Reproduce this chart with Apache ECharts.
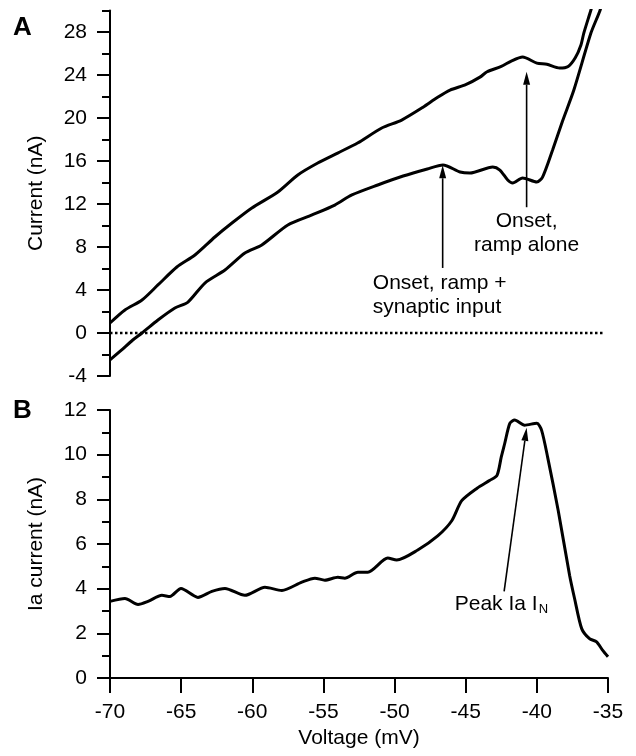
<!DOCTYPE html>
<html>
<head>
<meta charset="utf-8">
<script src="https://cdn.jsdelivr.net/npm/echarts@6/dist/echarts.min.js"></script>
<style>
  html, body { margin: 0; padding: 0; background: #fff; }
  #main { width: 636px; height: 756px; }
</style>
</head>
<body>
<div id="main"></div>
<script>
const FONT = '"Liberation Sans", Arial, sans-serif';

// tick positions
const voltTicks = [-70, -65, -60, -55, -50, -45, -40, -35];
const aMajorTicks = [-4, 0, 4, 8, 12, 16, 20, 24, 28];
const aMinorTicks = [-2, 2, 6, 10, 14, 18, 22, 26, 30];
const bMajorTicks = [0, 2, 4, 6, 8, 10, 12];
const bMinorTicks = [1, 3, 5, 7, 9, 11];

// panel A: current (nA) vs voltage (mV)
const rampAlone = [
  [-70, 0.93], [-68.95, 2.14], [-67.75, 3.07], [-66.63, 4.47], [-65.3, 6.14],
  [-64.03, 7.26], [-62.63, 8.93], [-61.43, 10.23], [-60.03, 11.63], [-58.2, 13.12],
  [-56.8, 14.7], [-55.4, 15.81], [-54, 16.74], [-52.6, 17.67], [-50.9, 19.07],
  [-49.5, 19.81], [-48, 21.0], [-47, 21.9], [-46.1, 22.6], [-45, 23.1],
  [-44, 23.8], [-43.5, 24.3], [-42.5, 24.8], [-41.8, 25.3], [-41, 25.67],
  [-40, 25.1], [-39.3, 25.0], [-38.4, 24.65], [-37.8, 24.8], [-37.3, 25.6],
  [-36.9, 26.8], [-36.7, 27.9], [-36.2, 30.05], [-36.0, 31]
];
const rampSynaptic = [
  [-70, -2.5], [-69.2, -1.6], [-68.4, -0.65], [-67.75, 0], [-66.63, 1.21],
  [-65.44, 2.33], [-64.52, 2.88], [-63.33, 4.65], [-61.92, 5.86], [-60.52, 7.44],
  [-59.33, 8.19], [-57.5, 10.05], [-55.8, 10.98], [-54.2, 11.9], [-53, 12.84],
  [-51.18, 13.77], [-49.4, 14.6], [-47.7, 15.26], [-46.6, 15.63], [-45.4, 14.98],
  [-44.7, 14.88], [-43.1, 15.44], [-42.6, 15.16], [-42.05, 14.23], [-41.7, 13.95],
  [-41, 14.42], [-40, 14.05], [-39.6, 14.5], [-38.9, 17.0], [-38.2, 19.7],
  [-37.4, 22.6], [-36.2, 27.9], [-35.55, 30.05], [-35.4, 31]
];
const zeroLine = [[-70, 0], [-35.3, 0]];

// panel B: Ia current (nA) vs voltage (mV)
const iaCurrent = [
  [-70, 3.43], [-68.95, 3.56], [-68.03, 3.29], [-67.33, 3.43], [-66.35, 3.70],
  [-65.79, 3.65], [-65.01, 4.01], [-63.82, 3.61], [-62.84, 3.88], [-61.92, 4.01],
  [-60.52, 3.70], [-59.11, 4.06], [-57.92, 3.92], [-56.52, 4.29], [-55.6, 4.47],
  [-54.9, 4.38], [-53.99, 4.51], [-53.5, 4.47], [-52.58, 4.74], [-51.88, 4.74],
  [-50.48, 5.37], [-49.85, 5.28], [-48.37, 5.73], [-46.97, 6.36], [-45.98, 7.04],
  [-45.28, 7.94], [-44.2, 8.5], [-43.3, 8.85], [-42.8, 9.07], [-42.5, 9.9],
  [-42.26, 10.5], [-41.9, 11.4], [-41.56, 11.55], [-40.86, 11.32], [-40.0, 11.41],
  [-39.67, 11.1], [-39.24, 9.88], [-38.5, 7.5], [-37.7, 4.6], [-37.35, 3.56],
  [-36.85, 2.21], [-36.3, 1.76], [-35.8, 1.62], [-35.4, 1.26], [-35, 0.95]
];

// annotations [V, I]
const arrowRampAlone = [[-40.72, 11.7], [-40.72, 24.3]];
const arrowRampSyn = [[-46.62, 6.05], [-46.62, 15.6]];
const arrowPeak = [[-42.3, 3.88], [-40.72, 11.2]];
const labelRampAlone = [-40.72, 9.26];
const labelRampSyn = [-51.53, 3.53];
const labelPeak = [-45.77, 3.29];

const black = '#000';
const txt = {color: black, fontSize: 21, fontFamily: FONT};

const chart = echarts.init(document.getElementById('main'));

chart.setOption({
  animation: false,
  backgroundColor: '#fff',
  grid: [
    {left: 110, top: 10.5, width: 498, height: 365.5},
    {left: 110, top: 410, width: 498, height: 268}
  ],
  xAxis: [
    {gridIndex: 0, type: 'value', min: -70, max: -35, show: false},
    {
      gridIndex: 1, type: 'value', min: -70, max: -35, interval: 5, position: 'bottom',
      axisLine: {onZero: false, lineStyle: {color: black, width: 2}},
      axisTick: {customValues: voltTicks, length: 15, lineStyle: {color: black, width: 2}},
      axisLabel: Object.assign({customValues: voltTicks, margin: 24}, txt),
      splitLine: {show: false},
      name: 'Voltage (mV)', nameLocation: 'middle', nameGap: 50,
      nameTextStyle: txt
    }
  ],
  yAxis: [
    {
      gridIndex: 0, type: 'value', min: -4, max: 30, interval: 4, position: 'left',
      axisLine: {show: true, onZero: false, lineStyle: {color: black, width: 2}},
      axisTick: {customValues: aMajorTicks, length: 13, lineStyle: {color: black, width: 2}},
      axisLabel: Object.assign({customValues: aMajorTicks, margin: 23}, txt),
      splitLine: {show: false},
      name: 'Current (nA)', nameLocation: 'middle', nameGap: 63,
      nameTextStyle: txt
    },
    {
      gridIndex: 0, type: 'value', min: -4, max: 30, interval: 4, position: 'left',
      axisLine: {show: false, onZero: false},
      axisTick: {customValues: aMinorTicks, length: 8, lineStyle: {color: black, width: 2}},
      axisLabel: {show: false},
      splitLine: {show: false}
    },
    {
      gridIndex: 1, type: 'value', min: 0, max: 12, interval: 2, position: 'left',
      axisLine: {show: true, onZero: false, lineStyle: {color: black, width: 2}},
      axisTick: {customValues: bMajorTicks, length: 13, lineStyle: {color: black, width: 2}},
      axisLabel: Object.assign({customValues: bMajorTicks, margin: 23}, txt),
      splitLine: {show: false},
      name: 'Ia current (nA)', nameLocation: 'middle', nameGap: 63,
      nameTextStyle: txt
    },
    {
      gridIndex: 1, type: 'value', min: 0, max: 12, interval: 2, position: 'left',
      axisLine: {show: false, onZero: false},
      axisTick: {customValues: bMinorTicks, length: 8, lineStyle: {color: black, width: 2}},
      axisLabel: {show: false},
      splitLine: {show: false}
    }
  ],
  series: [
    {
      type: 'line', xAxisIndex: 0, yAxisIndex: 0, data: rampAlone,
      showSymbol: false, smooth: 0.25, clip: true,
      lineStyle: {color: black, width: 3}
    },
    {
      type: 'line', xAxisIndex: 0, yAxisIndex: 0, data: rampSynaptic,
      showSymbol: false, smooth: 0.25, clip: true,
      lineStyle: {color: black, width: 3}
    },
    {
      type: 'line', xAxisIndex: 0, yAxisIndex: 0, data: zeroLine,
      showSymbol: false,
      lineStyle: {color: black, width: 2.5, type: [2.5, 2.5]}
    },
    {
      type: 'line', xAxisIndex: 1, yAxisIndex: 2, data: iaCurrent,
      showSymbol: false, smooth: 0.25, clip: true,
      lineStyle: {color: black, width: 3}
    }
  ]
});

// annotations placed through the axes' scales
const toPx = (g, p) => chart.convertToPixel({gridIndex: g}, p);

function arrow(g, seg) {
  const a = toPx(g, seg[0]), b = toPx(g, seg[1]);
  const dx = b[0] - a[0], dy = b[1] - a[1];
  const L = Math.hypot(dx, dy), ux = dx / L, uy = dy / L;
  const hl = 13, hw = 3.5;
  const bx = b[0] - ux * hl, by = b[1] - uy * hl;
  return [
    {type: 'line', shape: {x1: a[0], y1: a[1], x2: bx, y2: by},
     style: {stroke: black, lineWidth: 1.6}},
    {type: 'polygon',
     shape: {points: [b, [bx - uy * hw, by + ux * hw], [bx + uy * hw, by - ux * hw]]},
     style: {fill: black}}
  ];
}

function label(g, p, text, align, extra) {
  const q = toPx(g, p);
  return {
    type: 'text', x: q[0], y: q[1],
    style: Object.assign({
      text: text, fill: black, fontSize: 21, fontFamily: FONT,
      align: align, verticalAlign: 'middle', lineHeight: 24
    }, extra || {})
  };
}

const panelLetter = (t, y) => ({
  type: 'text', x: 13, y: y,
  style: {text: t, fill: black, fontSize: 26, fontWeight: 'bold', fontFamily: FONT,
          align: 'left', verticalAlign: 'middle'}
});

chart.setOption({
  graphic: [
    ...arrow(0, arrowRampAlone),
    ...arrow(0, arrowRampSyn),
    ...arrow(1, arrowPeak),
    label(0, labelRampAlone, 'Onset,\nramp alone', 'center'),
    label(0, labelRampSyn, 'Onset, ramp +\nsynaptic input', 'left'),
    label(1, labelPeak, 'Peak Ia I{sub|N}', 'left', {
      rich: {sub: {fontSize: 13, fontFamily: FONT, fill: black, padding: [10, 0, 0, 1]}}
    }),
    panelLetter('A', 28),
    panelLetter('B', 411)
  ]
});
</script>
</body>
</html>
